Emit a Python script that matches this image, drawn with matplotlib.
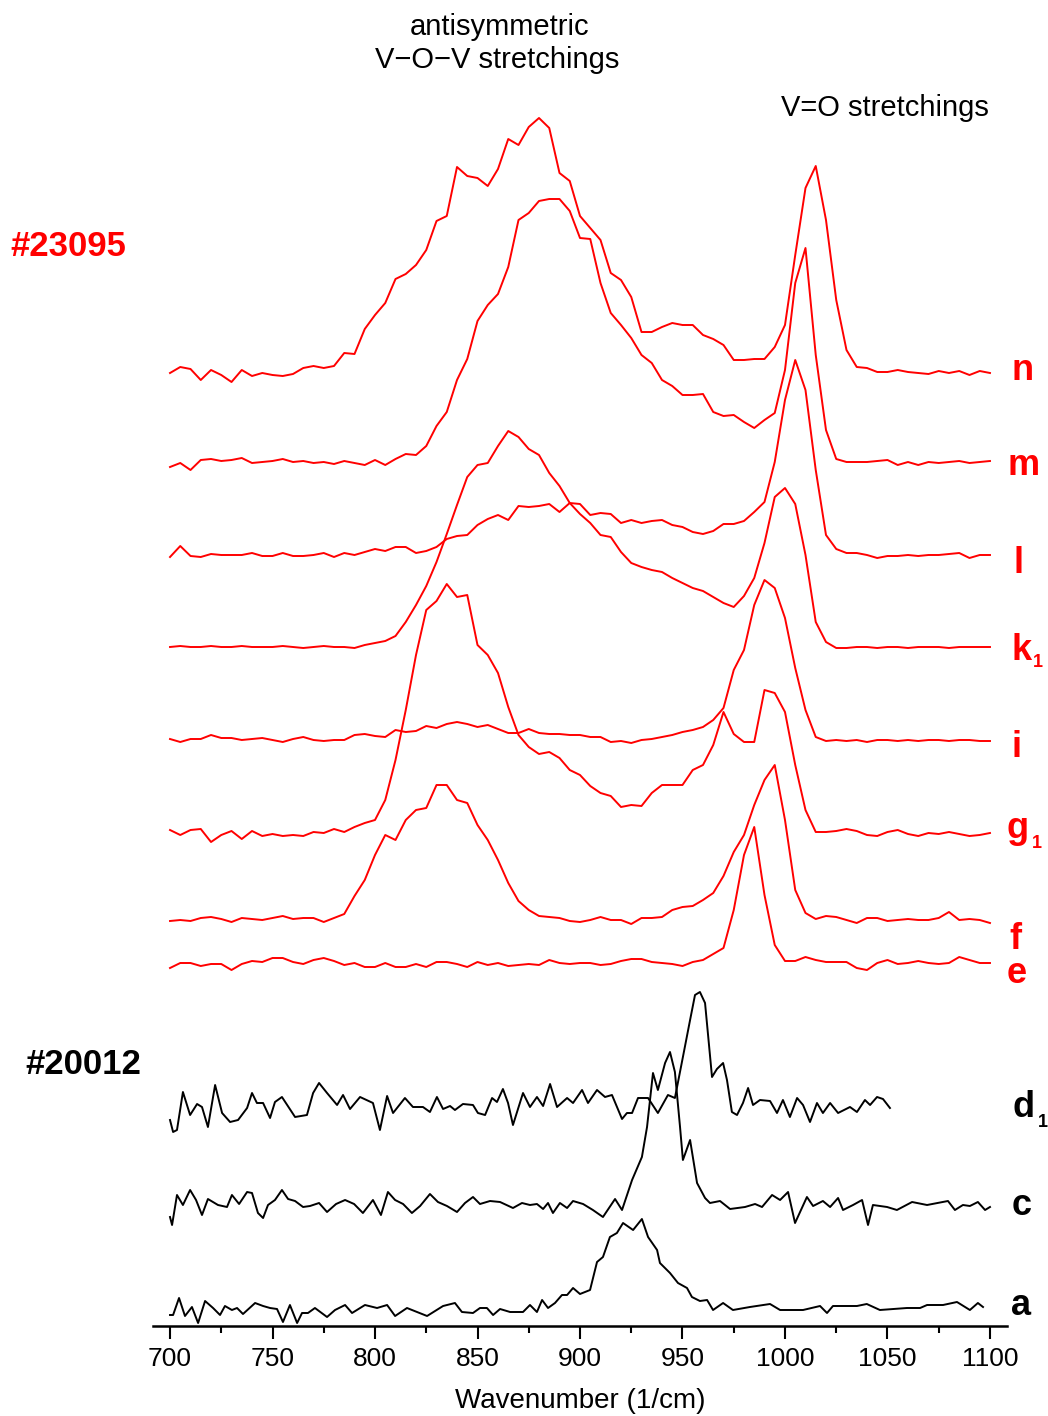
import numpy as np
import matplotlib
matplotlib.use("Agg")
import matplotlib.pyplot as plt

W, H = 1048, 1416

# wavenumber grid (1/cm), 5 cm-1 step, for the red traces (#23095)
wn = np.arange(700, 1101, 5)

# intensities above each trace's own baseline (arbitrary units)
n = [-1, 5, 3, -8, 2, -3, -10, 2, -4, -1, -3, -4, -2, 4, 6, 4, 6, 19, 18, 43,
     57, 69, 93, 98, 107, 122, 151, 156, 205, 196, 194, 186, 203, 233, 227, 245, 254, 244, 199, 191,
     156, 144, 132, 99, 92, 75, 40, 40, 45, 49, 47, 47, 37, 33, 27, 12, 12, 13, 13, 25,
     47, 117, 184, 206, 152, 72, 22, 5, 4, 0, 0, 2, 0, -1, -2, 1, -1, 1, -3, 1, -1]
m = [-3, 1, -6, 4, 5, 3, 4, 6, 1, 2, 3, 5, 2, 3, 1, 2, 0, 3, 1, -1,
     4, -1, 5, 10, 9, 18, 38, 52, 84, 105, 143, 159, 170, 197, 244, 251, 263, 265, 265, 253,
     226, 225, 181, 151, 139, 126, 109, 101, 84, 78, 69, 69, 70, 52, 48, 49, 42, 36, 44, 51,
     94, 181, 216, 109, 34, 5, 2, 2, 2, 3, 4, -1, 2, -1, 2, 1, 2, 3, 1, 2, 3]
l = [-1, 10, 0, -1, 2, 1, 1, 1, 3, 0, 0, 3, 0, 0, 1, 3, -1, 3, 1, 4,
     7, 5, 9, 9, 3, 5, 9, 17, 20, 21, 31, 37, 41, 36, 50, 49, 50, 52, 44, 53,
     52, 41, 43, 42, 33, 36, 33, 35, 36, 31, 29, 24, 22, 25, 32, 32, 35, 44, 54, 94,
     156, 196, 166, 86, 21, 7, 3, 3, 1, -2, 0, 0, 1, 0, 1, 1, 2, 3, -2, 1, 1]
k1 = [0, 1, 0, 0, 1, 0, 0, 1, 0, 0, 0, 1, 0, -1, 0, 1, 0, 0, -1, 2,
      4, 6, 11, 25, 42, 61, 85, 113, 142, 170, 182, 184, 201, 216, 210, 198, 192, 174, 161, 144,
      133, 124, 112, 110, 95, 84, 80, 77, 75, 69, 64, 59, 56, 50, 44, 40, 51, 69, 104, 150,
      159, 143, 92, 25, 5, -1, -1, 0, 0, -1, 0, 0, -1, 0, 0, 0, -1, 0, 0, 0, 0]
i = [1, -2, 1, 1, 5, 2, 2, 0, 1, 2, 0, -2, 1, 3, 0, -1, 0, 0, 5, 6,
     4, 3, 10, 8, 9, 14, 12, 16, 18, 16, 13, 15, 11, 7, 7, 11, 7, 6, 6, 5,
     5, 3, 3, -2, -1, -3, 0, 1, 3, 5, 8, 10, 13, 20, 32, 70, 90, 135, 160, 152,
     122, 72, 30, 3, -1, 0, -1, 0, -2, 0, 0, -1, 0, -1, 0, 0, -1, 0, 0, -1, -1]
g1 = [4, -1, 4, 5, -8, -1, 3, -5, 3, -2, 0, -2, -1, -2, 2, 1, 5, 2, 7, 11,
      14, 34, 74, 124, 179, 224, 233, 250, 237, 239, 189, 179, 161, 127, 99, 87, 80, 82, 76, 64,
      59, 48, 41, 38, 27, 29, 28, 41, 49, 49, 49, 64, 69, 89, 122, 100, 92, 92, 144, 141,
      122, 69, 24, 2, 2, 3, 5, 3, -1, -2, 2, 4, 0, -2, 1, 0, 2, 0, -2, -1, 1]
f = [-1, 0, -1, 2, 3, 1, -2, 2, 1, 0, 2, 4, 1, 2, 2, -2, 2, 6, 24, 40,
     65, 85, 80, 100, 110, 112, 135, 135, 120, 117, 95, 80, 60, 37, 19, 10, 4, 3, 2, -1,
     -2, 0, 3, 0, 0, -4, 2, 2, 3, 10, 13, 14, 20, 27, 44, 68, 85, 115, 140, 155,
     100, 30, 7, 1, 4, 3, 0, -3, 2, 2, -1, 0, 1, 0, 0, 2, 8, 0, 1, 0, -3]
e = [-4, 1, 1, -2, 0, 0, -6, 0, 3, 2, 6, 6, 2, 0, 4, 6, 3, -1, 1, -3,
     -3, 1, -3, -3, 0, -3, 2, 2, 0, -3, 2, -1, 1, -2, -1, 0, -1, 4, 1, 0,
     1, 1, -1, 0, 3, 5, 5, 2, 1, 0, -2, 2, 4, 10, 16, 54, 109, 137, 69, 19,
     3, 3, 7, 4, 2, 2, 2, -4, -6, 1, 4, 0, 1, 3, 1, 0, 1, 7, 4, 1, 1]

# black traces (#20012), irregular sampling
d1_x = [700, 701.5, 703.4, 706.3, 709.8, 713.2, 715.6, 718.5, 722.0, 725.4, 729.3, 733.2, 737.6,
        740.0, 742.4, 745.4, 748.8, 751.2, 754.6, 761.0, 766.8, 769.8, 772.7, 776.6, 781.5, 784.4,
        787.8, 792.7, 799.0, 802.4, 805.9, 808.8, 814.6, 818.5, 823.4, 826.8, 830.2, 833.2, 836.6,
        839.0, 842.9, 847.8, 850.2, 853.7, 857.1, 859.5, 862.4, 864.9, 867.3, 872.2, 875.6, 879.0,
        882.0, 885.4, 888.8, 893.7, 896.6, 901.0, 903.9, 908.3, 912.2, 915.6, 920.5, 922.9, 925.4,
        928.3, 933.2, 938.0, 942.9, 946.3, 950.2, 953.7, 956.1, 958.5, 961.0, 964.4, 966.8, 969.8,
        971.7, 974.1, 976.6, 979.5, 982.0, 984.4, 987.8, 992.7, 996.1, 999.0, 1002.4, 1005.9,
        1008.8, 1012.2, 1015.6, 1018.5, 1022.0, 1025.9, 1031.7, 1035.1, 1039.0, 1041.5, 1044.9,
        1047.8, 1051.2]
d1 = [-15, -27, -25, 13, -10, 1, -2, -22, 20, -8, -17, -15, -3,
      12, 2, 2, -13, 3, 8, -12, -10, 12, 22, 12, 0, 10,
      -4, 8, 2, -25, 9, -8, 7, -2, -2, -7, 8, -4, -1,
      -5, 1, 0, -8, -10, 7, 3, 16, 2, -20, 12, -2, 8,
      -1, 21, -2, 7, 2, 15, 2, 15, 8, 10, -14, -8, -8,
      7, 7, -8, 10, 7, 48, 85, 110, 113, 102, 28, 36, 42,
      25, -7, -10, 2, 17, 0, 5, 4, -8, 5, -12, 7,
      0, -17, 2, -8, 2, -8, -2, -7, 5, 0, 8,
      6, -3]
c_x = [700, 701.0, 703.4, 706.3, 709.8, 712.7, 715.6, 718.5, 723.4, 727.8, 730.2, 733.7, 737.6,
       740.0, 742.9, 745.4, 747.8, 751.2, 754.6, 757.6, 761.0, 764.9, 768.3, 772.7, 776.6, 781.0,
       785.4, 789.8, 794.1, 799.0, 802.9, 806.3, 809.8, 813.7, 818.0, 822.0, 826.8, 830.7, 835.1,
       840.0, 843.9, 847.8, 851.2, 856.1, 861.0, 867.3, 871.7, 875.6, 879.0, 882.0, 884.4, 886.8,
       890.2, 893.7, 896.6, 901.5, 906.3, 911.2, 917.1, 920.5, 925.4, 930.2, 932.7, 935.6, 938.0,
       941.5, 943.9, 946.3, 948.8, 950.2, 953.7, 957.1, 961.0, 963.4, 968.3, 973.2, 980.5, 985.4,
       988.8, 993.7, 997.6, 1001.5, 1004.9, 1010.7, 1013.7, 1018.5, 1022.0, 1025.9, 1028.3, 1033.2,
       1037.6, 1040.5, 1042.9, 1049.8, 1054.6, 1062.0, 1069.3, 1079.5, 1082.9, 1086.8, 1090.2,
       1094.1, 1097.6, 1100]
c = [-10, -18, 12, 2, 17, 7, -8, 8, 2, 0, 12, 3, 15,
     14, -6, -11, 2, 7, 17, 8, 6, 0, 1, 4, -5, 3,
     7, 3, -6, 7, -8, 15, 7, 3, -6, 1, 13, 5, 1,
     -5, 4, 10, 3, 6, 5, -1, 4, 2, 3, -2, 4, -6,
     4, -1, 6, 3, -3, -10, 8, -3, 27, 50, 80, 134, 117,
     144, 155, 135, 80, 47, 67, 24, 9, 4, 6, -2, 0, 3,
     0, 12, 7, 15, -16, 10, 1, 6, 0, 9, -3, 2,
     7, -18, 2, 0, -3, 5, 2, 6, -3, 2, 1,
     5, -3, 0]
a_x = [700, 701.5, 704.4, 707.3, 710.7, 713.7, 717.1, 721.0, 724.4, 726.8, 730.2, 732.7, 735.6,
       741.5, 745.4, 748.8, 752.2, 755.1, 758.5, 762.0, 764.4, 767.3, 770.7, 776.6, 780.5, 785.4,
       788.8, 795.1, 801.0, 805.9, 809.8, 815.6, 825.4, 833.2, 839.0, 842.4, 847.8, 851.2, 854.6,
       857.6, 861.0, 865.9, 872.2, 875.6, 879.0, 881.5, 884.4, 887.8, 891.2, 893.7, 896.6, 900.0,
       904.9, 908.3, 911.2, 914.6, 918.0, 921.0, 925.9, 930.2, 933.2, 937.6, 939.0, 943.9, 947.8,
       952.2, 954.6, 958.5, 962.0, 964.9, 969.8, 974.6, 982.9, 992.7, 997.6, 1008.8, 1017.1,
       1020.5, 1023.4, 1035.1, 1039.9, 1046.3, 1059.5, 1065.9, 1069.3, 1077.1, 1083.9, 1090.2,
       1094.1, 1096.6]
a = [-3, -3, 14, -4, 5, -11, 11, 4, -3, 6, 2, 4, -2,
     9, 6, 4, 3, -10, 7, -11, -1, -1, 4, -5, 2, 7,
     -1, 7, 4, 7, -4, 4, -4, 6, 9, 0, -1, 4, 4,
     -3, 3, 0, 0, 7, 0, 12, 4, 9, 17, 17, 24, 18,
     22, 50, 55, 75, 79, 89, 82, 93, 75, 62, 49, 39, 29,
     24, 15, 11, 12, 2, 9, 2, 5, 8, 2, 2, 6,
     -1, 6, 6, 8, 2, 4, 4, 7, 7, 10, 2,
     9, 5]

traces = [(wn, n), (wn, m), (wn, l), (wn, k1), (wn, i), (wn, g1), (wn, f), (wn, e),
          (d1_x, d1), (c_x, c), (a_x, a)]
colors = ["red"] * 8 + ["black"] * 3
# vertical stacking offsets
offsets = [954, 862, 770, 679, 586, 492, 406, 362, 221, 119, 14]

fig = plt.figure(figsize=(W / 100, H / 100), dpi=100)
ax = fig.add_axes([153 / W, (H - 1326) / H, 854 / W, 1326 / H])

for (x, y), col, off in zip(traces, colors, offsets):
    ax.plot(x, np.array(y) + off, color=col, lw=1.4)

ax.set_xlim(691.7, 1108.3)
ax.set_ylim(0, 1326)
for s in ["left", "right", "top"]:
    ax.spines[s].set_visible(False)
ax.spines["bottom"].set_linewidth(1.8)
ax.set_yticks([])
ax.set_xticks(np.arange(700, 1101, 50))
ax.set_xticks(np.arange(725, 1100, 50), minor=True)
ax.tick_params(axis="x", which="major", length=9, width=1.5, labelsize=19, pad=6)
ax.tick_params(axis="x", which="minor", length=5, width=1.5)
ax.set_xlabel("Wavenumber (1/cm)", fontsize=20, labelpad=12)
ax.patch.set_alpha(0)

font = "Liberation Sans"
for t in ax.get_xticklabels():
    t.set_fontfamily(font)
ax.xaxis.label.set_fontfamily(font)


def ftext(x, y, s, **kw):
    fig.text(x / W, 1 - y / H, s, family=font, **kw)


ftext(500, 27, "antisymmetric", fontsize=21, ha="center", va="center")
ftext(497, 60, "V\u2212O\u2212V stretchings", fontsize=21, ha="center", va="center")
ftext(885, 108, "V=O stretchings", fontsize=21, ha="center", va="center")
ftext(10, 247, "#23095", fontsize=25, weight="bold", color="red", va="center")
ftext(25, 1065, "#20012", fontsize=25, weight="bold", color="black", va="center")

# trace labels: (text, left x, baseline y, colour)
labels = [("n", 1012, 380, "red"), ("m", 1007, 475, "red"), ("l", 1014, 573, "red"),
          ("k", 1011, 660, "red"), ("i", 1011, 757, "red"), ("g", 1006, 838, "red"),
          ("f", 1009, 949, "red"), ("e", 1007, 983, "red"), ("d", 1012, 1117, "black"),
          ("c", 1012, 1215, "black"), ("a", 1011, 1315, "black")]
for s, x, y, col in labels:
    ftext(x, y, s, fontsize=26, weight="bold", color=col, va="baseline")

subs = [(1033, 667, "red"), (1032, 848, "red"), (1038, 1127, "black")]
for x, y, col in subs:
    ftext(x, y, "1", fontsize=13, weight="bold", color=col, va="baseline")

fig.savefig("out.png", dpi=100)
